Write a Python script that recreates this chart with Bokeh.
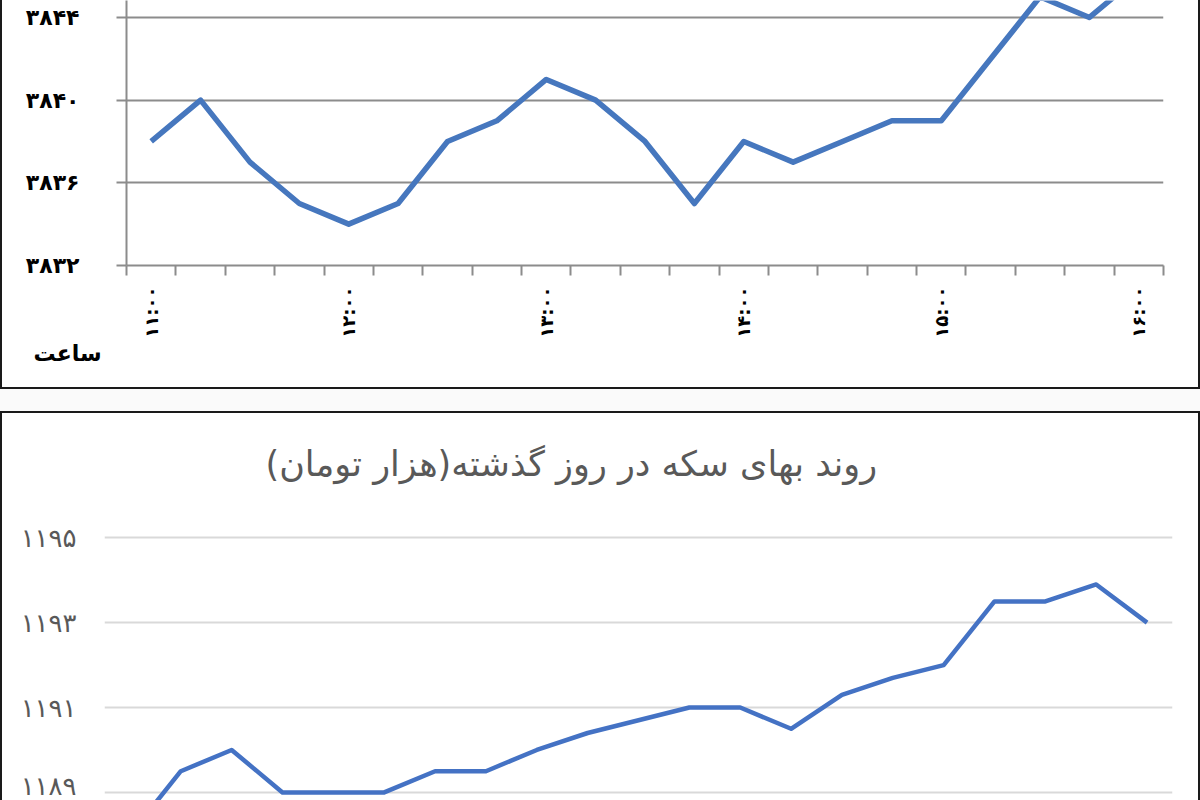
from bokeh.plotting import figure
from bokeh.layouts import column
from bokeh.models import Range1d, FixedTicker, Title, Spacer
from bokeh.embed import file_html
from bokeh.resources import INLINE

# ---------------- data ----------------
time_slots = ["11:00", "11:15", "11:30", "11:45", "12:00", "12:15", "12:30", "12:45",
              "13:00", "13:15", "13:30", "13:45", "14:00", "14:15", "14:30", "14:45",
              "15:00", "15:15", "15:30", "15:45", "16:00"]
hour_labels = ["۱۱:۰۰", "۱۲:۰۰", "۱۳:۰۰", "۱۴:۰۰", "۱۵:۰۰", "۱۶:۰۰"]
hour_slots = ["11:00", "12:00", "13:00", "14:00", "15:00", "16:00"]

top_values = [3838, 3840, 3837, 3835, 3834, 3835, 3838, 3839, 3841, 3840, 3838,
              3835, 3838, 3837, 3838, 3839, 3839, 3842, 3845, 3844, 3846]
top_ticks = [3832, 3836, 3840, 3844]
top_tick_labels = ["۳۸۳۲", "۳۸۳۶", "۳۸۴۰", "۳۸۴۴"]
top_axis_title = "ساعت"

coin_values = [1188.0, 1189.5, 1190.0, 1189.0, 1189.0, 1189.0, 1189.5, 1189.5, 1190.0,
               1190.4, 1190.7, 1191.0, 1191.0, 1190.5, 1191.3, 1191.7, 1192.0, 1193.5,
               1193.5, 1193.9, 1193.0]
coin_ticks = [1189, 1191, 1193, 1195]
coin_tick_labels = ["۱۱۸۹", "۱۱۹۱", "۱۱۹۳", "۱۱۹۵"]
coin_title = "روند بهای سکه در روز گذشته(هزار تومان)"

RLM = "\u200f"
FONT = "DejaVu Sans"
BORDER = "2px solid #1a1a1a"
idx = list(range(len(time_slots)))
hour_idx = [time_slots.index(h) for h in hour_slots]

# ---------------- top chart ----------------
top = figure(width=1200, height=389, output_backend="svg", toolbar_location=None,
             x_range=Range1d(-0.5, len(time_slots) - 0.5),
             y_range=Range1d(3832, 3844.82),
             min_border_left=124, min_border_right=39, min_border_top=0, min_border_bottom=124,
             outline_line_color=None, background_fill_color="white", border_fill_color="white",
             frame_align=False)
top.line(idx, top_values, line_color="#4677BE", line_width=5.5, line_join="round")

xax = top.xaxis[0]
xax.ticker = FixedTicker(ticks=hour_idx, minor_ticks=[i - 0.5 for i in range(len(time_slots) + 1)])
xax.major_label_overrides = {i: l for i, l in zip(hour_idx, hour_labels)}
xax.major_label_orientation = 3.14159265 / 2
xax.major_tick_out = 0
xax.major_tick_in = 0
xax.minor_tick_out = 10
xax.minor_tick_in = 0
xax.minor_tick_line_color = "#8c8c8c"
xax.minor_tick_line_width = 2
xax.axis_line_color = "#8c8c8c"
xax.axis_line_width = 2
xax.major_label_standoff = 11
xax.major_label_text_font = FONT
xax.major_label_text_font_style = "bold"
xax.major_label_text_font_size = "18px"
xax.major_label_text_color = "black"

yax = top.yaxis[0]
yax.ticker = FixedTicker(ticks=top_ticks)
yax.major_label_overrides = {t: l for t, l in zip(top_ticks, top_tick_labels)}
yax.major_tick_out = 10
yax.major_tick_in = 0
yax.minor_tick_out = 0
yax.minor_tick_in = 0
yax.major_tick_line_color = "#8c8c8c"
yax.major_tick_line_width = 2
yax.axis_line_color = "#8c8c8c"
yax.axis_line_width = 2
yax.major_label_standoff = 37
yax.major_label_text_font = FONT
yax.major_label_text_font_style = "bold"
yax.major_label_text_font_size = "22px"
yax.major_label_text_color = "black"

top.xgrid.grid_line_color = None
top.ygrid.grid_line_color = "#8c8c8c"
top.ygrid.grid_line_width = 2

top.add_layout(Title(text=top_axis_title, align="left", vertical_align="top", offset=-93,
                     standoff=0, text_font=FONT, text_font_style="bold",
                     text_font_size="22px", text_color="black"), "below")
top.styles = {"border-left": BORDER, "border-right": BORDER, "border-bottom": BORDER,
              "box-sizing": "border-box", "overflow": "hidden"}

gap = Spacer(width=1200, height=22, styles={"background-color": "#fafafa"})

# ---------------- bottom chart ----------------
bot = figure(width=1200, height=389, output_backend="svg", toolbar_location=None,
             x_range=Range1d(-0.5, len(time_slots) - 0.5),
             y_range=Range1d(1188.763, 1195.877),
             min_border_left=102, min_border_right=30, min_border_top=87, min_border_bottom=0,
             outline_line_color=None, background_fill_color="white", border_fill_color="white",
             frame_align=False)
bot.line(idx, coin_values, line_color="#4472C4", line_width=4.5, line_join="round")
bot.xaxis.visible = False
by = bot.yaxis[0]
by.ticker = FixedTicker(ticks=coin_ticks)
by.major_label_overrides = {t: l for t, l in zip(coin_ticks, coin_tick_labels)}
by.axis_line_color = None
by.major_tick_line_color = None
by.minor_tick_line_color = None
by.major_label_standoff = 22
by.major_label_text_font = FONT
by.major_label_text_font_size = "26px"
by.major_label_text_color = "#595959"
bot.xgrid.grid_line_color = None
bot.ygrid.grid_line_color = "#d9d9d9"
bot.ygrid.grid_line_width = 2

bot.add_layout(Title(text=RLM + coin_title + RLM, align="left", offset=161, standoff=33,
                     text_font=FONT, text_font_size="35px", text_font_style="normal",
                     text_color="#595959"), "above")
bot.styles = {"border-left": BORDER, "border-right": BORDER, "border-top": BORDER,
              "box-sizing": "border-box", "overflow": "hidden"}

layout = column(top, gap, bot, spacing=0)
open("out.html", "w").write(file_html(layout, INLINE))
